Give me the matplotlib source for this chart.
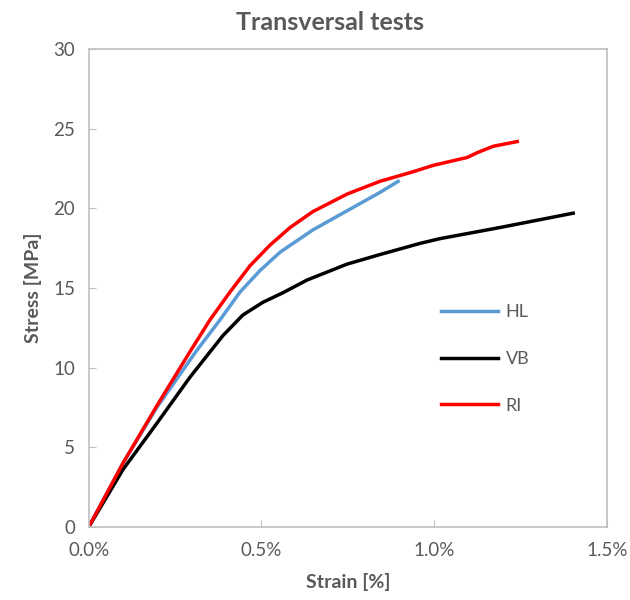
import matplotlib.pyplot as plt
from matplotlib.ticker import FuncFormatter

plt.rcParams['font.family'] = ['Lato', 'DejaVu Sans']

# Werte (Dehnung in %, Spannung in MPa)
hl_strain = [0, 0.099, 0.197, 0.310, 0.380, 0.438, 0.496, 0.554, 0.649, 0.748, 0.843, 0.896]
hl_stress = [0, 4.0, 7.5, 11.0, 13.0, 14.75, 16.1, 17.25, 18.65, 19.85, 21.0, 21.7]

vb_strain = [0, 0.099, 0.197, 0.293, 0.388, 0.446, 0.504, 0.562, 0.632, 0.748, 0.843, 0.959, 1.017, 1.191, 1.403]
vb_stress = [0, 3.6, 6.5, 9.4, 12.0, 13.3, 14.1, 14.7, 15.5, 16.5, 17.1, 17.8, 18.1, 18.8, 19.7]

ri_strain = [0, 0.099, 0.197, 0.293, 0.351, 0.409, 0.467, 0.525, 0.583, 0.649, 0.748, 0.843, 0.939, 0.997, 1.096, 1.125, 1.171, 1.241]
ri_stress = [0, 4.0, 7.6, 11.0, 13.0, 14.75, 16.4, 17.7, 18.8, 19.8, 20.9, 21.7, 22.3, 22.7, 23.2, 23.5, 23.9, 24.2]

xticks = [0, 0.5, 1.0, 1.5]
yticks = [0, 5, 10, 15, 20, 25, 30]

grau = '#595959'
rahmen = '#BFBFBF'

fig = plt.figure(figsize=(6.3, 6.0), dpi=100)
ax = fig.add_axes([0.141, 0.122, 0.822, 0.796])

ax.plot(hl_strain, hl_stress, '-', color='#5B9BD5', lw=2.5, label='HL')
ax.plot(vb_strain, vb_stress, '-', color='black', lw=2.5, label='VB')
ax.plot(ri_strain, ri_stress, '-', color='#FF0000', lw=2.5, label='RI')

ax.set_xlim(0, 1.5)
ax.set_ylim(0, 30)
ax.set_xticks(xticks)
ax.set_yticks(yticks)
ax.xaxis.set_major_formatter(FuncFormatter(lambda v, p: '%.1f%%' % v))
ax.tick_params(direction='in', length=5, color=rahmen, labelcolor=grau, labelsize=13.5)
ax.tick_params(axis='x', pad=11)
ax.tick_params(axis='y', pad=10)
for s in ax.spines.values():
    s.set_color(rahmen)
    s.set_linewidth(1.2)

ax.set_xlabel('Strain [%]', fontsize=14, fontweight='bold', color=grau, labelpad=10)
ax.set_ylabel('Stress [MPa]', fontsize=14, fontweight='bold', color=grau, labelpad=8)
fig.text(330 / 630, 1 - 22 / 600, 'Transversal tests', fontsize=18, fontweight='bold',
         color=grau, ha='center', va='center')

leg = ax.legend(loc='upper left', bbox_to_anchor=(0.648, 0.50), frameon=False,
                fontsize=13, labelspacing=1.7, handlelength=3.2, handletextpad=0.4)
for t in leg.get_texts():
    t.set_color(grau)

plt.savefig('out.png')
